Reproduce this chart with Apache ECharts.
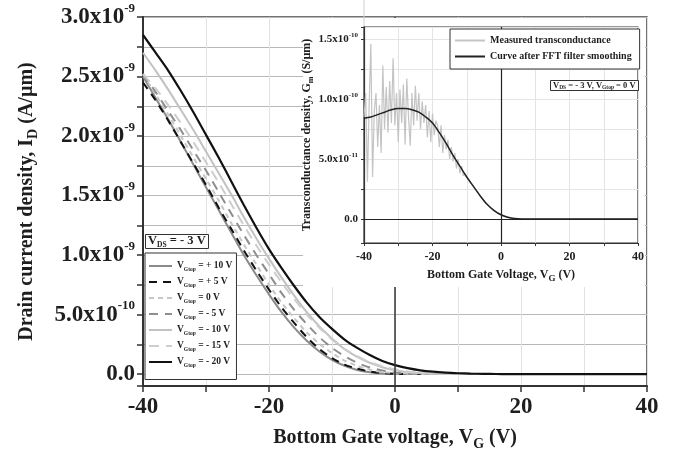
<!DOCTYPE html>
<html><head><meta charset="utf-8">
<script src="https://cdn.jsdelivr.net/npm/echarts@6/dist/echarts.min.js"></script>
<style>html,body{margin:0;padding:0;background:#fff}#c{width:675px;height:458px}</style>
</head><body><div id="c"></div>
<script>
// ---------- main chart data (I_D in units of 1e-9 A/µm) ----------
const vg = [-40,-38,-36,-34,-32,-30,-28,-26,-24,-22,-20,-18,-16,-14,-12,-10,-8,-6,-4,-2,0,2,4,6,8,10,12,14,16,18,20,30,40];
const gtopNames = ['+ 10','+ 5','0','- 5','- 10','- 15','- 20'];
const idP10 = [2.50,2.32,2.14,1.95,1.76,1.57,1.38,1.19,1.00,0.83,0.67,0.52,0.39,0.28,0.19,0.12,0.07,0.035,0.015,0.005,0.001,0,0,0,0,0,0,0,0,0,0,0,0];
const idP5  = [2.45,2.30,2.13,1.95,1.77,1.59,1.40,1.22,1.04,0.87,0.71,0.56,0.43,0.31,0.21,0.135,0.08,0.045,0.022,0.009,0.003,0.001,0,0,0,0,0,0,0,0,0,0,0];
const id0   = [2.52,2.35,2.18,2.00,1.82,1.64,1.46,1.27,1.09,0.92,0.75,0.60,0.47,0.35,0.255,0.176,0.114,0.068,0.037,0.018,0.009,0.003,0.001,0,0,0,0,0,0,0,0,0,0];
const idM5  = [2.52,2.37,2.21,2.05,1.88,1.71,1.53,1.35,1.17,1.00,0.84,0.68,0.54,0.42,0.31,0.22,0.15,0.095,0.055,0.03,0.014,0.006,0.002,0,0,0,0,0,0,0,0,0,0];
const idM10 = [2.70,2.55,2.39,2.22,2.05,1.87,1.69,1.51,1.32,1.14,0.97,0.81,0.66,0.52,0.40,0.30,0.21,0.145,0.095,0.058,0.032,0.016,0.007,0.003,0.001,0,0,0,0,0,0,0,0];
const idM15 = [2.52,2.40,2.26,2.11,1.95,1.78,1.61,1.43,1.25,1.08,0.92,0.77,0.63,0.50,0.39,0.29,0.21,0.15,0.10,0.065,0.04,0.022,0.011,0.005,0.002,0,0,0,0,0,0,0,0];
const idM20 = [2.85,2.70,2.55,2.38,2.20,2.01,1.82,1.62,1.42,1.23,1.05,0.89,0.74,0.60,0.48,0.38,0.29,0.22,0.16,0.11,0.075,0.05,0.032,0.02,0.012,0.007,0.004,0.002,0.001,0,0,0,0];
const mainYTickLabels = {'3.00':['3.0x10','-9'],'2.50':['2.5x10','-9'],'2.00':['2.0x10','-9'],'1.50':['1.5x10','-9'],'1.00':['1.0x10','-9'],'0.50':['5.0x10','-10'],'0.00':['0.0','']};
const mainXTickLabels = ['-40','-20','0','20','40'];

// ---------- inset data (G_m in units of 1e-10 S/µm) ----------
const gmVm = [-40,-39.5,-39,-38.5,-38,-37.5,-37,-36.5,-36,-35.5,-35,-34.5,-34,-33.5,-33,-32.5,-32,-31.5,-31,-30.5,-30,-29.5,-29,-28.5,-28,-27.5,-27,-26.5,-26,-25.5,-25,-24.5,-24,-23.5,-23,-22.5,-22,-21.5,-21,-20.5,-20,-19.5,-19,-18.5,-18,-17.5,-17,-16.5,-16,-15.5,-15,-14.5,-14,-13.5,-13,-12.5,-12,-11.5,-11,-10.5,-10,-9,-8,-7,-6,-5,-4,-3,-2,-1,0,1,2,3,4,5,10,15,20,25,30,35,40];
const gmMeas = [0.85,1.05,0.31,0.95,1.46,0.35,0.90,1.05,0.60,0.95,0.55,1.28,0.75,1.10,0.72,1.15,0.80,1.34,0.78,1.05,0.64,1.08,0.80,1.12,0.62,1.17,0.85,0.61,1.05,0.78,1.11,0.82,1.05,0.75,0.98,0.80,0.95,0.68,0.90,0.64,0.88,0.70,0.82,0.78,0.60,0.78,0.55,0.70,0.58,0.66,0.50,0.60,0.48,0.55,0.42,0.50,0.38,0.44,0.36,0.38,0.35,0.31,0.27,0.23,0.19,0.155,0.12,0.09,0.07,0.05,0.035,0.02,0.012,0.006,0.002,0,0,0,0,0,0,0,0];
const gmVs = [-40,-38,-36,-34,-32,-30,-28,-26,-24,-22,-20,-18,-16,-14,-12,-10,-8,-6,-4,-2,0,2,4,6,8,10,20,30,40];
const gmSmooth = [0.84,0.85,0.87,0.89,0.91,0.92,0.92,0.91,0.89,0.85,0.80,0.72,0.63,0.53,0.44,0.35,0.27,0.19,0.12,0.07,0.035,0.015,0.004,0,0,0,0,0,0];
const insetYTickLabels = {'1.50':['1.5x10','-10'],'1.00':['1.0x10','-10'],'0.50':['5.0x10','-11'],'0.00':['0.0','']};
const insetXTickLabels = ['-40','-20','0','20','40'];

// ---------- styling ----------
const serif = 'Liberation Serif';
const dark = '#1e1e1e';
const styles = [
  {color:'#8a8a8a', type:'solid', width:2},
  {color:'#111111', type:[8,6], width:2},
  {color:'#c6c6c6', type:[5,4], width:2},
  {color:'#8e8e8e', type:[9,7], width:2},
  {color:'#c2c2c2', type:'solid', width:2},
  {color:'#cdcdcd', type:[10,7], width:2},
  {color:'#111111', type:'solid', width:2.2}
];
const allId = [idP10, idP5, id0, idM5, idM10, idM15, idM20];
const zip = (xs, ys) => xs.map((x,i)=>[x, ys[i]]);
const hiddenSym = {color:'rgba(0,0,0,0)', borderColor:'rgba(0,0,0,0)', borderWidth:0, opacity:0};

const mainSeries = allId.map((arr,k)=>({
  name: gtopNames[k], type:'line', xAxisIndex:0, yAxisIndex:0,
  data: zip(vg, arr), showSymbol:false, symbol:'none', smooth:0.25,
  lineStyle: styles[k], itemStyle:{color:styles[k].color}, z:2,
  markLine: k===6 ? {z:3, silent:true, symbol:'none', label:{show:false}, lineStyle:{color:'#333', width:1.5, type:'solid'}, data:[{xAxis:0}]} : undefined
}));

const supRich = (fs, ps) => ({
  m:{fontSize:fs, fontWeight:'bold', fontFamily:serif, color:dark, lineHeight:Math.round(fs*1.3)},
  p:{fontSize:ps, fontWeight:'bold', fontFamily:serif, color:dark, verticalAlign:'top', lineHeight:ps+2}
});
const subRich = (fs, ss) => ({
  t:{fontSize:fs, fontWeight:'bold', fontFamily:serif, color:dark, lineHeight:Math.round(fs*1.3)},
  s:{fontSize:ss, fontWeight:'bold', fontFamily:serif, color:dark, verticalAlign:'bottom', lineHeight:ss+1}
});
function fmtY(map){
  return v => { const key = (Math.round(v*100)/100).toFixed(2); const e = map[key]; if(!e) return ''; return e[1] ? `{m|${e[0]}}{p|${e[1]}}` : `{m|${e[0]}}`; };
}
function fmtX(list){ return v => list.includes(String(Math.round(v))) ? String(Math.round(v)) : ''; }

const option = {
  animation:false,
  backgroundColor:'#fff',
  title:[
    {text:'{t|V}{s|DS}{t| = - 3 V}', left:145, top:233, backgroundColor:'#fff', borderColor:'#333', borderWidth:1, padding:[0,3,0,3], z:10,
     textStyle:{rich:subRich(12.5,7.5)}},
    {text:'{t|V}{s|DS}{t| = - 3 V, V}{s|Gtop}{t| = 0 V}', left:550, top:79, backgroundColor:'#fff', borderColor:'#333', borderWidth:1, padding:[1,3,0,3], z:10,
     textStyle:{rich:subRich(8.5,5.5)}}
  ],
  legend:[
    {data:gtopNames, orient:'vertical', left:145, top:253, itemWidth:23, itemHeight:2, itemGap:4.5,
     itemStyle:hiddenSym,
     backgroundColor:'#fff', borderColor:'#333', borderWidth:1, padding:[8,4,11,3], selectedMode:false, z:10,
     formatter: n => `{v|V}{s|Gtop}{v| = ${n} V}`,
     textStyle:{rich:{v:{fontSize:9.5, fontWeight:'bold', fontFamily:serif, color:dark, lineHeight:13}, s:{fontSize:5.5, fontWeight:'bold', fontFamily:serif, color:dark, verticalAlign:'bottom', lineHeight:7}}}},
    {data:['Measured transconductance','Curve after FFT filter smoothing'], orient:'vertical', left:450, top:29, itemWidth:30, itemHeight:2, itemGap:3,
     itemStyle:hiddenSym,
     backgroundColor:'#fff', borderColor:'#333', borderWidth:1, padding:[5,8,6,4], selectedMode:false, z:10,
     textStyle:{fontSize:10, fontWeight:'bold', fontFamily:serif, color:dark, lineHeight:13}}
  ],
  graphic:[
    {type:'rect', z:5, shape:{x:303, y:18, width:342, height:269}, style:{fill:'#fff'}},
    {type:'line', z:5, shape:{x1:364, y1:0, x2:364, y2:27}, style:{stroke:'#cfcfcf', lineWidth:1}}
  ],
  grid:[
    {left:143, right:28, top:17, bottom:72, show:true, borderColor:'#444', borderWidth:1.5, z:0},
    {left:364, right:37, top:27, bottom:215, show:true, borderColor:'#333', borderWidth:1.2, backgroundColor:'#fff', z:6}
  ],
  xAxis:[
    {gridIndex:0, type:'value', min:-40, max:40, interval:10,
     axisLine:{onZero:false, lineStyle:{color:'#333', width:2}},
     axisTick:{length:6, lineStyle:{color:'#333', width:1.5}},
     splitLine:{show:true, lineStyle:{color:'#e2e2e2', width:1}},
     axisLabel:{formatter:fmtX(mainXTickLabels), fontSize:23, fontWeight:'bold', fontFamily:serif, color:dark, margin:10},
     name:'{t|Bottom Gate voltage, V}{s|G}{t| (V)}', nameLocation:'middle', nameGap:39,
     nameTextStyle:{rich:subRich(20,14)}},
    {gridIndex:1, type:'value', min:-40, max:40, interval:10, z:7,
     axisLine:{onZero:false, lineStyle:{color:'#333', width:1.2}},
     axisTick:{length:3, lineStyle:{color:'#333'}},
     splitLine:{show:true, lineStyle:{color:'#e4e4e4', width:1}},
     axisLabel:{formatter:fmtX(insetXTickLabels), fontSize:12, fontWeight:'bold', fontFamily:serif, color:dark, margin:8},
     name:'{t|Bottom Gate Voltage, V}{s|G}{t| (V)}', nameLocation:'middle', nameGap:24,
     nameTextStyle:{rich:subRich(12,9)}}
  ],
  yAxis:[
    {gridIndex:0, type:'value', min:-0.1, max:3.0, minInterval:0.25, maxInterval:0.25, splitNumber:12,
     axisLine:{onZero:false, lineStyle:{color:'#333', width:2}},
     axisTick:{length:6, lineStyle:{color:'#333', width:1.5}},
     splitLine:{show:true, lineStyle:{color:'#b8b8b8', width:1}},
     axisLabel:{formatter:fmtY(mainYTickLabels), margin:8, rich:supRich(23,13)},
     name:'{t|Drain current density, I}{s|D}{t| (A/µm)}', nameLocation:'middle', nameGap:103,
     nameTextStyle:{rich:subRich(20,14)}},
    {gridIndex:1, type:'value', min:-0.2, max:1.6, minInterval:0.25, maxInterval:0.25, splitNumber:7, z:7,
     axisLine:{onZero:false, lineStyle:{color:'#333', width:1.2}},
     axisTick:{length:3, lineStyle:{color:'#333'}},
     splitLine:{show:true, lineStyle:{color:'#e4e4e4', width:1}},
     axisLabel:{formatter:fmtY(insetYTickLabels), margin:6, rich:supRich(11,7)},
     name:'{t|Transconductance density, G}{s|m}{t| (S/µm)}', nameLocation:'middle', nameGap:46,
     nameTextStyle:{rich:subRich(12,8)}}
  ],
  series: mainSeries.concat([
    {name:'Measured transconductance', type:'line', xAxisIndex:1, yAxisIndex:1, data:zip(gmVm, gmMeas), showSymbol:false, symbol:'none',
     lineStyle:{color:'#c4c4c4', width:1.2}, itemStyle:{color:'#c4c4c4'}, z:8},
    {name:'Curve after FFT filter smoothing', type:'line', xAxisIndex:1, yAxisIndex:1, data:zip(gmVs, gmSmooth), showSymbol:false, symbol:'none', smooth:0.3,
     lineStyle:{color:'#222', width:1.5}, itemStyle:{color:'#222'}, z:9,
     markLine:{z:9, silent:true, symbol:'none', label:{show:false}, lineStyle:{color:'#222', width:1.2, type:'solid'}, data:[{xAxis:0},{yAxis:0}]}}
  ])
};
const chart = echarts.init(document.getElementById('c'), null, {renderer:'canvas'});
chart.setOption(option);
</script></body></html>
